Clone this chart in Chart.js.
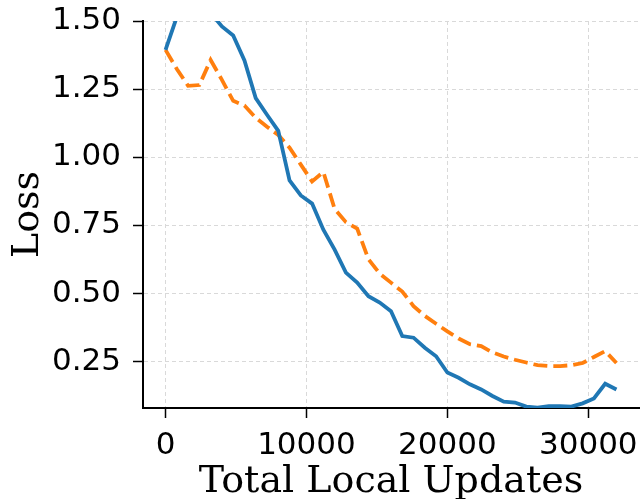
<!DOCTYPE html>
<html>
<head>
<meta charset="utf-8">
<script src="https://cdn.jsdelivr.net/npm/chart.js@4"></script>
<style>
  html, body { margin: 0; padding: 0; background: #fff; }
  canvas { display: block; }
</style>
</head>
<body>
<canvas id="lossChart" width="644" height="499"></canvas>
<script>
// total local updates (x), one point every 800 updates
const updates = [0, 800, 1600, 2400, 3200, 4000, 4800, 5600, 6400, 7200,
    8000, 8800, 9600, 10400, 11200, 12000, 12800, 13600, 14400, 15200,
    16000, 16800, 17600, 18400, 19200, 20000, 20800, 21600, 22400, 23200,
    24000, 24800, 25600, 26400, 27200, 28000, 28800, 29600, 30400, 31200, 32000];

// solid blue curve
const blueLoss = [1.394, 1.515, 1.57, 1.59, 1.53, 1.48, 1.447, 1.355, 1.217, 1.156,
    1.097, 0.915, 0.86, 0.83, 0.734, 0.661, 0.577, 0.54, 0.49, 0.467,
    0.435, 0.344, 0.338, 0.301, 0.27, 0.21, 0.191, 0.167, 0.148, 0.124,
    0.103, 0.1, 0.085, 0.081, 0.087, 0.087, 0.085, 0.097, 0.115, 0.169, 0.148];

// dashed orange curve
const orangeLoss = [1.394, 1.324, 1.262, 1.265, 1.357, 1.284, 1.207, 1.19, 1.145, 1.112,
    1.082, 1.035, 0.973, 0.911, 0.946, 0.81, 0.762, 0.738, 0.626, 0.573,
    0.54, 0.507, 0.454, 0.418, 0.389, 0.361, 0.335, 0.314, 0.307, 0.284,
    0.269, 0.257, 0.247, 0.237, 0.234, 0.234, 0.237, 0.245, 0.267, 0.289, 0.245];

const xTicks = [0, 10000, 20000, 30000];
const yTicks = [0.25, 0.5, 0.75, 1.0, 1.25, 1.5];

const toPoints = (ys) => updates.map((x, i) => ({ x: x, y: ys[i] }));

const tickFont = { family: 'DejaVu Sans', size: 31 };
const titleFont = { family: 'DejaVu Serif', size: 38, lineHeight: 1 };

const gridOpts = {
    color: '#d9d9d9',
    lineWidth: 1,
    tickColor: '#000',
    tickWidth: 1.5,
    tickLength: 10,
};

new Chart(document.getElementById('lossChart'), {
    type: 'line',
    data: {
        datasets: [
            {
                data: toPoints(blueLoss),
                borderColor: '#1f77b4',
                borderWidth: 3.8,
                pointRadius: 0,
                tension: 0,
                clip: 0,
            },
            {
                data: toPoints(orangeLoss),
                borderColor: '#ff7f0e',
                borderWidth: 3.8,
                borderDash: [14, 6],
                pointRadius: 0,
                tension: 0,
                clip: 0,
            },
        ]
    },
    options: {
        responsive: false,
        animation: false,
        devicePixelRatio: 1,
        layout: { padding: { top: 21, right: 5, left: 0, bottom: 0 } },
        plugins: { legend: { display: false }, tooltip: { enabled: false } },
        scales: {
            x: {
                type: 'linear',
                min: -1600,
                max: 33600,
                afterBuildTicks: (scale) => { scale.ticks = xTicks.map(v => ({ value: v })); },
                afterFit: (scale) => {
                    scale.height = 91;
                    scale.paddingLeft = 0;
                    scale.paddingRight = 0;
                },
                ticks: {
                    font: tickFont,
                    color: '#000',
                    padding: 9,
                    maxRotation: 0,
                    callback: (v) => String(v),
                },
                grid: gridOpts,
                border: { color: '#000', width: 2, dash: [4, 3] },
                title: {
                    display: true,
                    text: 'Total Local Updates',
                    font: titleFont,
                    color: '#000',
                    padding: { top: 0, bottom: -2 },
                },
            },
            y: {
                type: 'linear',
                min: 0.08,
                max: 1.5,
                afterBuildTicks: (scale) => { scale.ticks = yTicks.map(v => ({ value: v })); },
                afterFit: (scale) => {
                    scale.width = 143;
                    scale.paddingTop = 0;
                    scale.paddingBottom = 0;
                },
                ticks: {
                    font: tickFont,
                    color: '#000',
                    padding: 12,
                    callback: (v) => v.toFixed(2),
                },
                grid: gridOpts,
                border: { color: '#000', width: 2, dash: [4, 3] },
                title: {
                    display: true,
                    text: 'Loss',
                    font: titleFont,
                    color: '#000',
                    padding: { top: 9, bottom: 0 },
                },
            },
        }
    }
});
</script>
</body>
</html>
